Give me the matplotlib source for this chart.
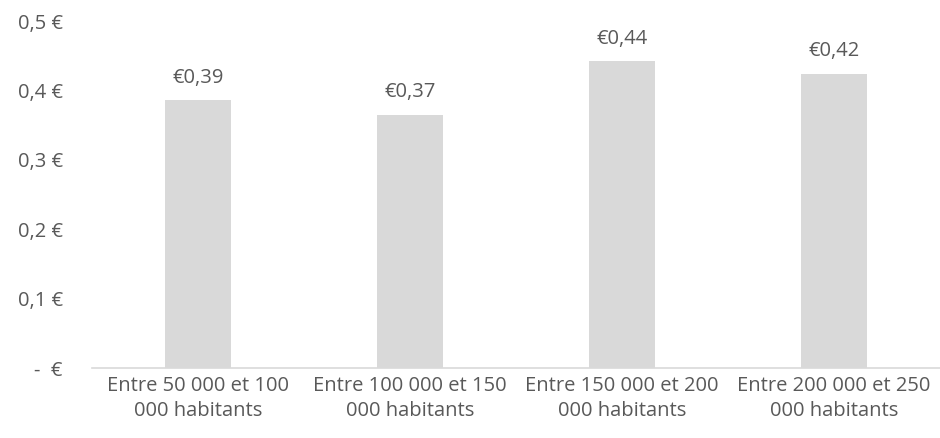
import matplotlib.pyplot as plt
import numpy as np

categories = ["Entre 50 000 et 100\n000 habitants",
              "Entre 100 000 et 150\n000 habitants",
              "Entre 150 000 et 200\n000 habitants",
              "Entre 200 000 et 250\n000 habitants"]
values = [0.386, 0.365, 0.442, 0.424]
labels = ["€0,39", "€0,37", "€0,44", "€0,42"]
yticks = [0, 0.1, 0.2, 0.3, 0.4, 0.5]
ytick_labels = ["-  €", "0,1 €", "0,2 €", "0,3 €", "0,4 €", "0,5 €"]

txt = "#595959"
fs = 14.5
plt.rcParams['font.family'] = ['Open Sans', 'DejaVu Sans']

fig = plt.figure(figsize=(9.4, 4.38), dpi=100)
ax = fig.add_axes([92/940, 1 - 368/438, 1 - 92/940, (368 - 21)/438])

x = np.arange(len(categories))
ax.bar(x, values, width=0.31, color="#D9D9D9", zorder=2)
for xi, v, lab in zip(x, values, labels):
    ax.annotate(lab, (xi, v), xytext=(0, 9), textcoords="offset points",
                ha="center", va="bottom", fontsize=fs, color=txt)

ax.set_xlim(-0.5, 3.5)
ax.set_ylim(0, 0.5)
ax.set_yticks(yticks)
ax.set_yticklabels(ytick_labels)
ax.set_xticks(x)
ax.set_xticklabels(categories, linespacing=1.3)

for s in ["top", "right", "left"]:
    ax.spines[s].set_visible(False)
ax.spines["bottom"].set_color("#D9D9D9")
ax.spines["bottom"].set_linewidth(1.2)
ax.tick_params(axis="both", length=0, labelsize=fs, colors=txt)
ax.tick_params(axis="y", pad=21)
ax.tick_params(axis="x", pad=6)

fig.savefig("out.png", dpi=100)
